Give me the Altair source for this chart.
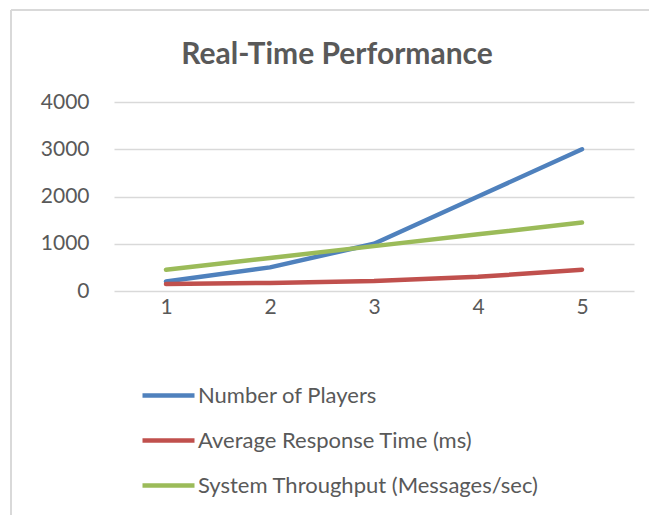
import altair as alt
import pandas as pd

periods = ["1", "2", "3", "4", "5"]
series_names = ["Number of Players", "Average Response Time (ms)", "System Throughput (Messages/sec)"]
players = [200, 500, 1000, 2000, 3000]
response = [150, 170, 210, 300, 450]
throughput = [450, 700, 950, 1200, 1450]
colors = ["#4F81BD", "#C0504D", "#9BBB59"]

rows = []
for name, vals in zip(series_names, [players, response, throughput]):
    for p, v in zip(periods, vals):
        rows.append({"period": p, "series": name, "value": v})
df = pd.DataFrame(rows)

FONT = "Lato"
TXT = "#595959"

lines = alt.Chart(df).mark_line(strokeWidth=4.5, strokeCap="round", strokeJoin="round").encode(
    x=alt.X("period:O", scale=alt.Scale(padding=0.5), sort=periods,
            axis=alt.Axis(title=None, labelAngle=0, ticks=False, domain=False, grid=False,
                          labelPadding=5, labelFontSize=21, labelColor=TXT, labelFont=FONT)),
    y=alt.Y("value:Q", scale=alt.Scale(domain=[0, 4000], nice=False),
            axis=alt.Axis(title=None, values=[0, 1000, 2000, 3000, 4000], format="d", ticks=False,
                          domain=False, grid=True, gridColor="#d9d9d9", gridWidth=1.5,
                          labelPadding=25, labelFontSize=21, labelColor=TXT, labelFont=FONT)),
    color=alt.Color("series:N", sort=series_names,
                    scale=alt.Scale(domain=series_names, range=colors),
                    legend=alt.Legend(title=None, orient="none", legendX=26, legendY=265,
                                      direction="vertical", symbolType="stroke",
                                      symbolSize=2704, symbolStrokeWidth=4.5,
                                      labelFontSize=22, labelColor=TXT, labelFont=FONT,
                                      labelOffset=1, rowPadding=5, labelLimit=500)),
    order=alt.Order("period:O"),
)

border = alt.Chart(alt.Data(values=[{}])).mark_rule(color="#d9d9d9", strokeWidth=2).encode(
    x=alt.value(-103), x2=alt.value(540), y=alt.value(-92))
border2 = alt.Chart(alt.Data(values=[{}])).mark_rule(color="#d9d9d9", strokeWidth=2).encode(
    x=alt.value(-103), y=alt.value(-92), y2=alt.value(420))

chart = alt.layer(border, border2, lines).properties(
    width=520, height=189,
    title=alt.TitleParams("Real-Time Performance", fontSize=30, font=FONT, fontWeight="bold",
                          color=TXT, anchor="middle", frame="group", dx=-37, offset=-61),
    autosize=alt.AutoSizeParams(type="none"),
    padding={"left": 114, "top": 102, "right": 15, "bottom": 224},
).configure(background="white").configure_view(strokeWidth=0, stroke="transparent")

chart.save("out.html", embed_options={"renderer": "svg", "actions": False})
